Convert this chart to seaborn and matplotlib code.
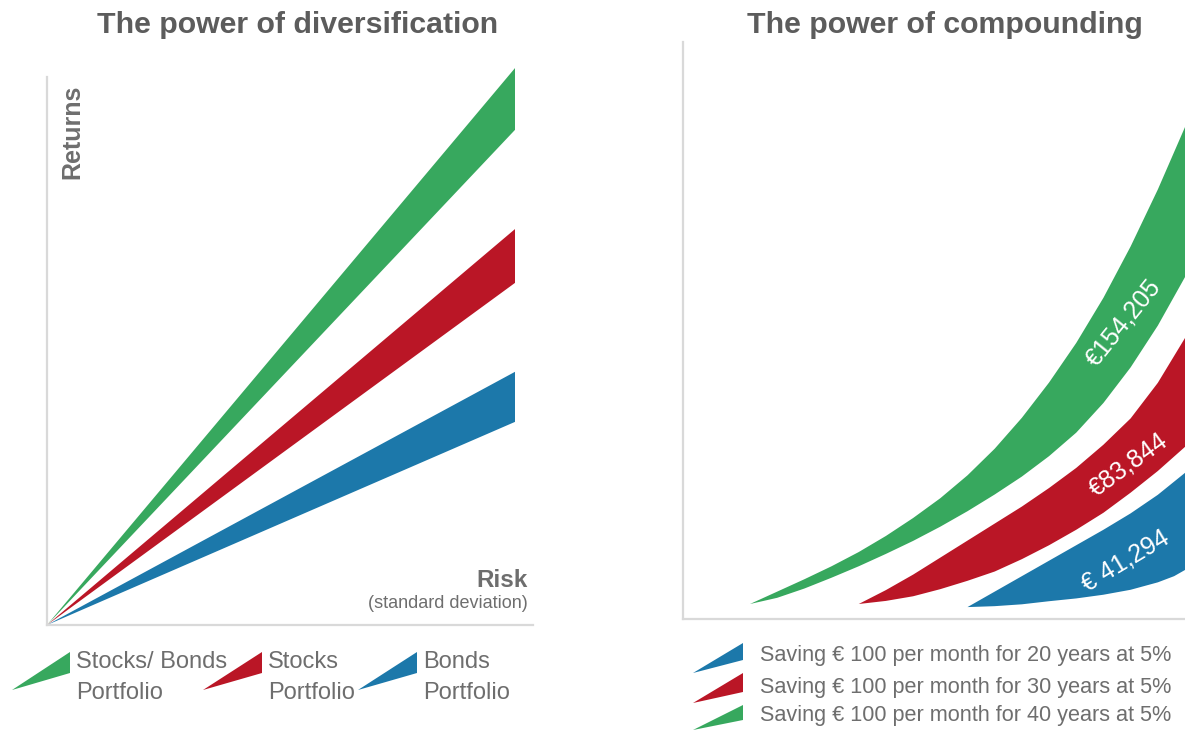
import matplotlib
matplotlib.use("Agg")
import matplotlib.pyplot as plt
import seaborn as sns

# ---------------- data ----------------
# Left panel: risk/return wedges (endpoint of each wedge at risk = 10)
portfolio_names = ["Stocks/ Bonds", "Stocks", "Bonds"]
risk_end = 10.0
returns_upper = [11.90, 8.46, 5.41]
returns_lower = [10.58, 7.31, 4.34]

# Right panel: compounding bands (x = years, y = thousand EUR)
green_top_years = [0, 2.5, 5, 7.5, 10, 12.5, 15, 17.5, 20, 22.5, 25, 27.5, 30, 32.5, 35, 37.5, 40]
green_top_value = [0, 4.0, 8.0, 12.2, 16.8, 22.0, 27.8, 34.2, 41.6, 50.2, 60.2, 71.6, 84.4, 99.0, 115.6, 134.0, 154.2]
green_bot_years = [0, 2.5, 5, 7.5, 10, 12.5, 15, 17.5, 20, 22.5, 25, 27.5, 30, 32.5, 35, 37.5, 40]
green_bot_value = [0, 2.0, 5.0, 8.5, 12.2, 16.2, 20.4, 25.0, 30.0, 35.4, 41.2, 47.8, 55.4, 65.0, 76.5, 90.0, 105.7]

red_top_years = [10, 12.5, 15, 17.5, 20, 22.5, 25, 27.5, 30, 32.5, 35, 37.5, 40]
red_top_value = [0, 4.5, 9.5, 15.0, 20.5, 26.0, 31.5, 37.5, 44.0, 51.5, 60.0, 71.5, 86.0]
red_bot_years = [10, 12.5, 15, 17.5, 20, 22.5, 25, 27.5, 30, 32.5, 35, 37.5, 40]
red_bot_value = [0, 1.0, 2.5, 4.8, 7.5, 10.5, 14.5, 19.0, 24.0, 29.5, 36.0, 43.0, 50.8]

blue_top_years = [20, 21, 22.5, 25, 27.5, 30, 32.5, 35, 37.5, 40]
blue_top_value = [-1.0, 1.0, 4.0, 9.0, 14.0, 19.0, 24.0, 29.3, 35.3, 42.4]
blue_bot_years = [20, 22.5, 25, 27.5, 30, 32.5, 35, 37.5, 39, 40]
blue_bot_value = [-1.0, -0.7, -0.1, 0.9, 1.8, 3.0, 4.6, 7.0, 9.0, 11.0]

final_values = ["€154,205", "€83,844", "€ 41,294"]
scenario_labels = [
    "Saving € 100 per month for 20 years at 5%",
    "Saving € 100 per month for 30 years at 5%",
    "Saving € 100 per month for 40 years at 5%",
]

GREEN = "#37A85E"
RED = "#BA1626"
BLUE = "#1C78AA"
COLORS = [GREEN, RED, BLUE]
SPINE = "#d9d9d9"
TXT = "#6e6e6e"
TITLE = "#5c5c5c"

sns.set_theme(style="white")
plt.rcParams["font.family"] = ["Liberation Sans", "DejaVu Sans"]

W, H = 1185, 731
fig = plt.figure(figsize=(W / 100, H / 100), dpi=100)


def rect(x0, y0, x1, y1):
    return [x0 / W, (H - y1) / H, (x1 - x0) / W, (y1 - y0) / H]


# ---------------- left panel ----------------
axL = fig.add_axes(rect(47, 40, 533, 625))
axL.set_xlim(0, 486 / 46.8)
axL.set_ylim(0, 585 / 46.8)
for up, lo, c in zip(returns_upper, returns_lower, COLORS):
    axL.fill([0, risk_end, risk_end], [0, up, lo], color=c, lw=0)
sns.despine(ax=axL)
for s in ["left", "bottom"]:
    axL.spines[s].set_color(SPINE)
    axL.spines[s].set_linewidth(1.6)
axL.spines["left"].set_bounds(0, (625 - 77) / 46.8)
axL.set_xticks([])
axL.set_yticks([])
axL.patch.set_alpha(0)

# ---------------- right panel ----------------
axR = fig.add_axes(rect(683, 42, 1185, 619))
axR.set_xlim(-6.16, 40)
axR.set_ylim(-4.85, 181.7)
bands = [
    (green_top_years, green_top_value, green_bot_years, green_bot_value, GREEN),
    (red_top_years, red_top_value, red_bot_years, red_bot_value, RED),
    (blue_top_years, blue_top_value, blue_bot_years, blue_bot_value, BLUE),
]
for ty, tv, by, bv, c in bands:
    xs = list(ty) + list(by[::-1])
    ys = list(tv) + list(bv[::-1])
    axR.fill(xs, ys, color=c, lw=0, clip_on=False, joinstyle="round")
sns.despine(ax=axR)
for s in ["left", "bottom"]:
    axR.spines[s].set_color(SPINE)
    axR.spines[s].set_linewidth(1.6)
axR.set_xticks([])
axR.set_yticks([])
axR.patch.set_alpha(0)

label_pos = [(34.3, 91.0, 51), (34.8, 45.0, 36), (34.5, 13.8, 31)]
for txt, (x, y, rot) in zip(final_values, label_pos):
    axR.text(x, y, txt, color="white", fontsize=18, rotation=rot,
             rotation_mode="anchor", ha="center", va="center")

# ---------------- overlay (titles, legends) ----------------
ov = fig.add_axes([0, 0, 1, 1])
ov.set_xlim(0, W)
ov.set_ylim(H, 0)
ov.axis("off")
ov.patch.set_alpha(0)

ov.text(298, 33, "The power of diversification", fontsize=21.8, fontweight="bold",
        color=TITLE, ha="center", va="baseline")
ov.text(945, 33, "The power of compounding", fontsize=21.8, fontweight="bold",
        color=TITLE, ha="center", va="baseline")

ov.text(72, 132, "Returns", fontsize=18, fontweight="bold", color=TXT,
        rotation=90, ha="center", va="center")
ov.text(528, 587, "Risk", fontsize=17.5, fontweight="bold", color=TXT,
        ha="right", va="baseline")
ov.text(528, 608, "(standard deviation)", fontsize=13, color=TXT,
        ha="right", va="baseline")

# left legend
left_icons = [(12, 70), (203, 262), (358, 417)]
for (tip, right), c, name in zip(left_icons, COLORS, portfolio_names):
    ov.fill([tip, right, right], [690, 652, 673], color=c, lw=0)
    ov.text(right + 6, 662, name, fontsize=17, color=TXT, ha="left", va="center")
    ov.text(right + 6, 693, "Portfolio", fontsize=17, color=TXT, ha="left", va="center")

# right legend
right_icons = [(673, 643, 660, BLUE), (703, 673, 692, RED), (730, 705, 720, GREEN)]
text_y = [655, 687, 716]
for (tipy, y0, y1, c), lab, ty in zip(right_icons, scenario_labels, text_y):
    ov.fill([693, 743, 743], [tipy, y0, y1], color=c, lw=0)
    ov.text(760, ty, lab, fontsize=15.6, color=TXT, ha="left", va="center")

fig.savefig("out.png", dpi=100, facecolor="white")
